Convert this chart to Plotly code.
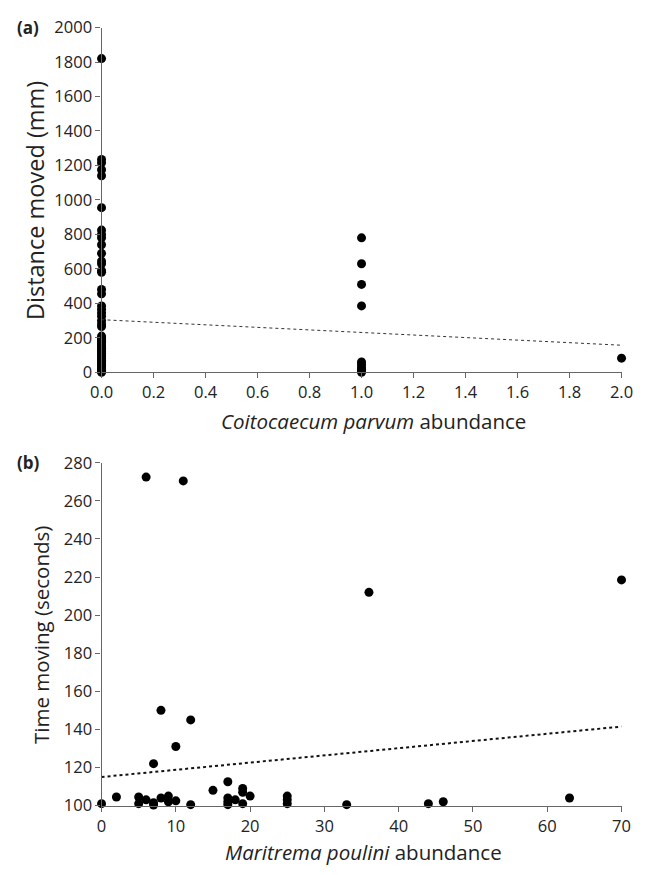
import plotly.graph_objects as go

# ---------- Panel (a) data ----------
a_x0_vals = [1820, 1235, 1215, 1175, 1140, 955, 825, 800, 780, 740, 690, 645, 630, 590, 580,
             480, 455, 385, 365, 345, 325, 300, 280, 265,
             210, 200, 190, 180, 170, 160, 150, 140, 130, 120, 110, 100, 90, 80, 70, 60,
             50, 40, 30, 20, 15, 10, 5, 0]
a_x1_vals = [780, 630, 510, 385, 60, 45, 30, 18, 8, 0]
a_x2_vals = [82]
a_x = [0] * len(a_x0_vals) + [1] * len(a_x1_vals) + [2] * len(a_x2_vals)
a_y = a_x0_vals + a_x1_vals + a_x2_vals
trend_a_x = [0, 2]
trend_a_y = [305, 157]

# ---------- Panel (b) data ----------
b_x = [0, 2, 5, 5, 6, 7, 7, 7, 8, 8, 9, 9, 10, 10, 11, 6, 12, 12, 15, 17, 17, 17, 17, 18,
       19, 19, 19, 20, 25, 25, 25, 33, 36, 44, 46, 63, 70]
b_y = [101, 104.5, 104.5, 101, 103, 101.5, 100.3, 122, 104, 150, 105, 102, 102.5, 131, 270.5,
       272.5, 100.5, 145, 108, 112.5, 104, 102, 100.5, 103, 109, 107, 101, 105, 105, 103, 101,
       100.5, 212, 101, 102, 104, 218.5]
trend_b_x = [0, 70]
trend_b_y = [115, 141.5]

a_xticks = [0.0, 0.2, 0.4, 0.6, 0.8, 1.0, 1.2, 1.4, 1.6, 1.8, 2.0]
a_yticks = list(range(0, 2001, 200))
b_xticks = list(range(0, 71, 10))
b_yticks = list(range(100, 281, 20))

FONT = "Open Sans"
W, H = 647, 875
xl, xr = 93 / W, 633 / W
a_top, a_bot = 1 - 16 / H, 1 - 370 / H
b_top, b_bot = 1 - 463 / H, 1 - 815 / H

fig = go.Figure()
fig.add_trace(go.Scatter(x=a_x, y=a_y, mode="markers", xaxis="x", yaxis="y",
                         marker=dict(color="black", size=9), cliponaxis=False, showlegend=False))
fig.add_trace(go.Scatter(x=trend_a_x, y=trend_a_y, mode="lines", xaxis="x", yaxis="y",
                         line=dict(color="#333", width=1, dash="dot"), showlegend=False))
fig.add_trace(go.Scatter(x=b_x, y=b_y, mode="markers", xaxis="x2", yaxis="y2",
                         marker=dict(color="black", size=9), cliponaxis=False, showlegend=False))
fig.add_trace(go.Scatter(x=trend_b_x, y=trend_b_y, mode="lines", xaxis="x2", yaxis="y2",
                         line=dict(color="#111", width=2, dash="dot"), showlegend=False))

axcommon = dict(showline=True, linecolor="#666", linewidth=1.3, ticks="outside", ticklen=5,
                tickcolor="#666", showgrid=False, zeroline=False,
                tickfont=dict(family=FONT, size=16.5, color="#222"))

fig.update_layout(
    width=W, height=H, margin=dict(l=0, r=0, t=0, b=0),
    paper_bgcolor="white", plot_bgcolor="white",
    xaxis=dict(domain=[xl, xr], anchor="y", range=[0, 2], tickvals=a_xticks,
               ticktext=[f"{v:.1f}" for v in a_xticks], **axcommon),
    yaxis=dict(domain=[a_bot, a_top], anchor="x", range=[0, 2000], tickvals=a_yticks, **axcommon),
    xaxis2=dict(domain=[xl, xr], anchor="y2", range=[0, 70], tickvals=b_xticks, **axcommon),
    yaxis2=dict(domain=[b_bot, b_top], anchor="x2", range=[100, 280], tickvals=b_yticks, **axcommon),
)

ann = [
    dict(text="<b>(a)</b>", x=3 / W, y=1 - 16 / H, xanchor="left", yanchor="middle",
         font=dict(size=17)),
    dict(text="<b>(b)</b>", x=3 / W, y=1 - 463 / H, xanchor="left", yanchor="middle",
         font=dict(size=17)),
    dict(text="Distance moved (mm)", x=24 / W, y=1 - 194 / H, textangle=-90,
         xanchor="center", yanchor="middle", font=dict(size=23.5)),
    dict(text="Time moving (seconds)", x=30 / W, y=1 - 640 / H, textangle=-90,
         xanchor="center", yanchor="middle", font=dict(size=20.5)),
    dict(text="<i>Coitocaecum parvum</i> abundance", x=375 / W, y=1 - 404 / H,
         xanchor="center", yanchor="top", font=dict(size=20.5)),
    dict(text="<i>Maritrema poulini</i> abundance", x=365 / W, y=1 - 846 / H,
         xanchor="center", yanchor="top", font=dict(size=20.5)),
]
for a in ann:
    a.update(xref="paper", yref="paper", showarrow=False)
    a["font"].update(family=FONT, color="#222")
fig.update_layout(annotations=ann)

fig.write_html("out.html")
